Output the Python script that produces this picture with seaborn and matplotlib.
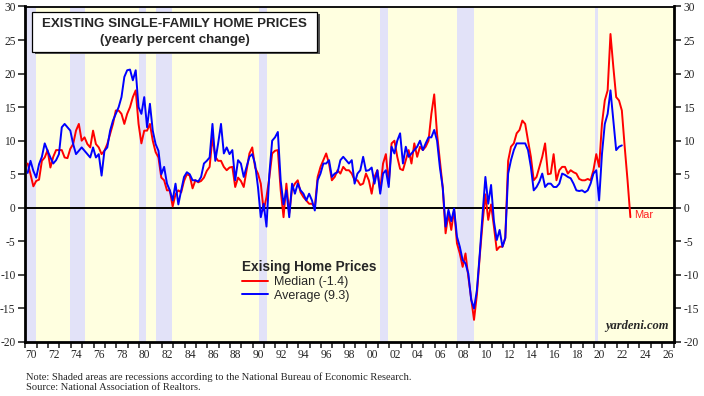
import numpy as np
import pandas as pd
import matplotlib
matplotlib.use('Agg')
import matplotlib.pyplot as plt
from matplotlib.patches import Rectangle
from matplotlib.lines import Line2D
import seaborn as sns

# yearly % change, quarterly readings (Q1..Q4 per row), 1970 onwards
median = [
    6.6, 5.0, 3.2, 4.0,      # 1970
    4.2, 7.0, 7.5, 8.6,
    6.0, 7.6, 8.6, 8.6,
    8.6, 7.5, 7.4, 8.8,
    9.5, 11.5, 12.5, 10.0,
    10.5, 9.5, 9.0, 11.5,    # 1975
    9.5, 9.0, 8.0, 8.5,
    9.5, 11.0, 12.5, 14.5,
    14.5, 14.0, 12.5, 14.0,
    15.0, 16.5, 17.5, 12.5,
    9.6, 11.5, 11.5, 12.5,   # 1980
    10.0, 8.3, 7.5, 4.5,
    4.1, 2.6, 2.6, 0.2,
    2.0, 2.6, 2.3, 4.0,
    5.0, 4.8, 2.9, 4.1,
    3.8, 4.0, 4.5, 5.5,      # 1985
    6.1, 10.5, 7.6, 7.0,
    7.0, 6.1, 5.6, 6.0,
    6.1, 3.1, 4.5, 4.0,
    3.1, 5.6, 8.1, 9.0,
    6.0, 5.1, 3.6, -0.4,     # 1990
    1.6, 4.5, 8.1, 8.5,
    8.6, 2.6, -1.4, 3.6,
    -0.8, 2.8, 3.6, 4.1,
    2.3, 1.6, 1.1, 0.6,
    0.6, 0.1, 4.6, 6.1,      # 1995
    7.1, 8.1, 6.6, 4.1,
    4.6, 5.6, 5.1, 6.1,
    5.6, 5.6, 5.1, 4.1,
    4.1, 3.4, 3.6, 5.1,
    4.1, 2.1, 4.6, 5.6,      # 2000
    2.6, 6.6, 8.0, 3.6,
    9.6, 10.0, 7.6, 5.8,
    5.6, 7.1, 8.6, 6.6,
    9.6, 7.6, 9.1, 8.6,
    9.1, 10.0, 14.0, 16.9,   # 2005
    11.0, 7.0, 3.0, -3.8,
    -0.9, -3.3, -0.3, -5.3,
    -6.8, -8.8, -6.8, -10.3,
    -13.5, -16.7, -13.0, -7.3,
    -2.3, 2.0, -1.8, 0.5,    # 2010
    -2.8, -6.3, -5.8, -5.8,
    -4.5, 7.0, 9.1, 9.6,
    11.1, 11.6, 13.0, 12.5,
    10.0, 7.6, 4.1, 4.6,
    6.1, 7.6, 9.6, 5.0,      # 2015
    5.1, 8.0, 4.1, 5.6,
    6.1, 6.1, 5.1, 5.6,
    5.3, 5.1, 4.3, 4.1,
    4.1, 4.3, 4.1, 5.6,
    8.0, 6.1, 12.5, 16.0,    # 2020
    17.5, 25.9, 21.0, 16.5,
    16.0, 14.5, 9.1, 4.1,
    -1.4,                    # Mar 2023
]

average = [
    5.2, 7.0, 5.5, 4.5,      # 1970
    6.5, 7.6, 9.6, 8.5,
    7.5, 6.6, 7.1, 8.0,
    12.0, 12.5, 12.0, 11.5,
    9.5, 8.0, 8.5, 9.0,
    8.5, 8.0, 7.5, 9.0,      # 1975
    7.5, 8.0, 4.8, 8.5,
    9.0, 11.5, 13.0, 14.0,
    15.0, 16.5, 19.5, 20.5,
    20.6, 19.0, 20.5, 15.0,
    14.0, 16.5, 12.0, 15.5,  # 1980
    11.5, 9.5, 8.5, 5.0,
    6.1, 3.6, 2.6, 1.1,
    3.6, 0.5, 2.6, 4.6,
    5.3, 5.0, 4.1, 4.1,
    3.9, 4.6, 6.6, 7.0,      # 1985
    7.5, 12.5, 7.0, 9.6,
    12.5, 8.1, 9.0, 8.0,
    8.6, 4.1, 7.1, 6.6,
    4.6, 6.1, 7.6, 8.0,
    6.5, 3.1, -1.4, 0.6,     # 1990
    -2.8, 5.0, 10.0, 10.5,
    11.3, 4.0, 0.5, 2.6,
    -1.4, 3.6, 2.1, 3.6,
    2.6, 2.1, 1.1, 2.1,
    1.1, -0.4, 4.1, 5.1,     # 1995
    6.6, 6.6, 7.1, 4.6,
    5.1, 5.3, 7.1, 7.6,
    7.1, 6.6, 7.1, 3.6,
    5.1, 5.6, 7.6, 5.5,
    5.6, 6.0, 3.6, 5.6,      # 2000
    2.1, 5.1, 5.6, 3.1,
    9.1, 8.1, 10.0, 11.1,
    6.6, 9.1, 7.6, 8.1,
    8.6, 9.1, 10.0, 8.6,
    9.6, 10.5, 10.5, 11.6,   # 2005
    10.0, 6.0, 3.0, -2.8,
    -0.3, -2.0, -0.1, -4.3,
    -5.8, -7.8, -8.3, -9.8,
    -13.7, -15.0, -12.3, -7.0,
    -1.0, 4.6, 0.6, 3.4,     # 2010
    -2.0, -4.8, -3.3, -5.8,
    -4.5, 5.1, 7.1, 8.6,
    9.6, 9.6, 9.6, 9.6,
    8.6, 6.1, 2.6, 3.1,
    3.9, 5.1, 3.1, 3.6,      # 2015
    3.6, 3.1, 3.1, 3.6,
    5.1, 4.9, 4.6, 4.4,
    3.6, 2.6, 2.5, 2.6,
    2.3, 2.6, 3.6, 5.1,
    5.6, 1.1, 8.0, 12.5,     # 2020
    14.0, 17.5, 13.0, 8.6,
    9.1, 9.3,
]

# NBER recessions (start, end) in decimal years
rec_start = [1969.92, 1973.92, 1980.0, 1981.5, 1990.58, 2001.17, 2007.92, 2020.08]
rec_end = [1970.92, 1975.25, 1980.58, 1982.92, 1991.25, 2001.92, 2009.5, 2020.33]

year_labels = list(range(1970, 2027, 2))


def decimal_years(n):
    d = pd.date_range('1970-03-01', periods=n, freq='3MS')
    return d.year + (d.month - 0.5) / 12


df = pd.concat([
    pd.DataFrame({'t': decimal_years(len(median)), 'v': median, 's': 'Median (-1.4)'}),
    pd.DataFrame({'t': decimal_years(len(average)), 'v': average, 's': 'Average (9.3)'}),
])

sns.set_style('white')
serif = ['Liberation Serif', 'DejaVu Serif']
sans = ['Liberation Sans', 'DejaVu Sans']
plt.rcParams['font.family'] = sans

fig = plt.figure(figsize=(7.04, 3.96), dpi=100)
ax = fig.add_axes([25.3/704, 1-342/396, (673.5-25.3)/704, (342-6.5)/396])
ax.set_facecolor('#FFFFE0')

for a, b in zip(rec_start, rec_end):
    ax.axvspan(a, b, color='#E2E2F8', lw=0, zorder=0)
ax.axhline(0, color='black', lw=1.4, zorder=1)

sns.lineplot(data=df, x='t', y='v', hue='s', palette={'Median (-1.4)': '#FF0000', 'Average (9.3)': '#0000FF'},
             linewidth=1.4, ax=ax, legend=False, zorder=3)

ax.set_xlim(1970, 2027)
ax.set_ylim(-20, 30)
ax.set_xlabel('')
ax.set_ylabel('')

# x axis: a tick every year, labels centered in even years
ax.set_xticks(np.arange(1970, 2028, 1))
ax.set_xticklabels([])
ax.set_xticks([y + 0.5 for y in year_labels], minor=True)
ax.set_xticklabels(['%02d' % (y % 100) for y in year_labels], minor=True, fontfamily=serif, fontsize=8.3)
ax.tick_params(axis='x', which='major', direction='out', length=4, width=1.2, bottom=True)
ax.tick_params(axis='x', which='minor', length=0, pad=5)

ax.set_yticks(np.arange(-20, 31, 5))
ax.set_yticklabels([str(v) for v in range(-20, 31, 5)], fontfamily=serif, fontsize=8.3)
ax.tick_params(axis='y', direction='out', length=5, width=1.2, left=True, right=True,
               labelleft=True, labelright=True, pad=2)

for side in ['left', 'right', 'bottom']:
    ax.spines[side].set_linewidth(2.0)
    ax.spines[side].set_color('black')
ax.spines['top'].set_linewidth(1.3)
ax.spines['top'].set_color('black')

# title box with shadow
x0, y0, w, h = 32/704, 1-52/396, 285/704, 40/396
fig.patches.append(Rectangle((x0 + 2.5/704, y0 - 2.5/396), w, h, transform=fig.transFigure,
                             facecolor='#555555', edgecolor='none', zorder=5))
fig.patches.append(Rectangle((x0, y0), w, h, transform=fig.transFigure,
                             facecolor='white', edgecolor='black', lw=0.9, zorder=6))
fig.text(x0 + w/2, 1-24/396, 'EXISTING SINGLE-FAMILY HOME PRICES', ha='center', va='center',
         fontsize=9.6, fontweight='bold', zorder=7)
fig.text(x0 + w/2, 1-39.5/396, '(yearly percent change)', ha='center', va='center',
         fontsize=9.6, fontweight='bold', zorder=7)

# legend
handles = [Line2D([], [], color='#FF0000', lw=1.4), Line2D([], [], color='#0000FF', lw=1.4)]
leg = ax.legend(handles, ['Median (-1.4)', 'Average (9.3)'], title='Exising Home Prices',
                loc='upper left', bbox_to_anchor=(242/704, 1-260/396), bbox_transform=fig.transFigure,
                frameon=False, fontsize=9, handlelength=2.1, handletextpad=0.5, borderpad=0,
                borderaxespad=0, labelspacing=0.15, alignment='left',
                title_fontproperties={'weight': 'bold', 'size': 9.8})

ax.text(2023.55, -1.0, 'Mar', color='#FF2020', fontsize=8, ha='left', va='center')
ax.text(0.993, 0.03, 'yardeni.com', transform=ax.transAxes, ha='right', va='bottom',
        fontfamily=serif, fontsize=9, fontweight='bold', fontstyle='italic')

fig.text(26/704, 1-377/396, 'Note: Shaded areas are recessions according to the National Bureau of Economic Research.',
         fontfamily=serif, fontsize=7.6, va='center', ha='left')
fig.text(26/704, 1-388/396, 'Source: National Association of Realtors.',
         fontfamily=serif, fontsize=7.6, va='center', ha='left')

fig.savefig('out.png', dpi=100)
